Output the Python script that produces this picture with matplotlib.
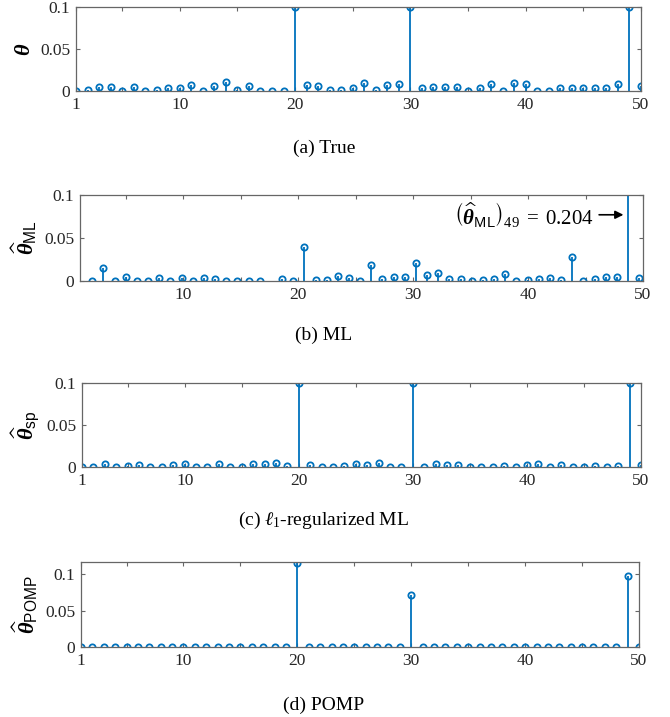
import numpy as np
import matplotlib
matplotlib.use('Agg')
import matplotlib.pyplot as plt

plt.rcParams['font.family'] = ['Liberation Serif', 'DejaVu Serif']
plt.rcParams['mathtext.fontset'] = 'custom'
plt.rcParams['mathtext.rm'] = 'Liberation Serif'
plt.rcParams['mathtext.it'] = 'Liberation Serif:italic'
plt.rcParams['mathtext.bf'] = 'Liberation Serif:bold'
plt.rcParams['mathtext.bfit'] = 'Liberation Serif:italic:bold'
plt.rcParams['mathtext.sf'] = 'Liberation Sans'
plt.rcParams['mathtext.fallback'] = 'stix'

# values
idx = np.arange(1, 51)
theta_true = [0, 0.001, 0.005, 0.005, 0, 0.005, 0, 0.0015, 0.003, 0.003,
              0.0075, 0, 0.0065, 0.011, 0.0015, 0.0055, 0, 0.0005, 0.0005, 0.1,
              0.0075, 0.006, 0.001, 0.0015, 0.004, 0.0095, 0.0015, 0.0075, 0.008, 0.1,
              0.003, 0.005, 0.005, 0.005, 0, 0.003, 0.0085, 0, 0.0095, 0.0085,
              0.0005, 0.0005, 0.003, 0.003, 0.003, 0.003, 0.003, 0.008, 0.1, 0.006]
theta_ml = [0, 0.0147, 0, 0.0044, 0, 0, 0.003, 0, 0.003, 0,
            0.003, 0.0024, 0, 0, 0, 0, np.nan, 0.002, 0, 0.0397,
            0.001, 0.001, 0.006, 0.003, 0, 0.0187, 0.002, 0.005, 0.005, 0.0206,
            0.007, 0.009, 0.002, 0.002, 0, 0.001, 0.002, 0.008, 0, 0.001,
            0.002, 0.004, 0.001, 0.0274, 0, 0.002, 0.005, 0.0044, 0.204, 0.004]
theta_sp = [0, 0, 0.0036, 0, 0.0012, 0.0024, 0, 0, 0.002, 0.004,
            0, 0, 0.003, 0, 0, 0.003, 0.003, 0.0044, 0.0016, 0.1,
            0.002, 0, 0, 0.0016, 0.0036, 0.0028, 0.0048, 0, 0, 0.1,
            0, 0.003, 0.0028, 0.0028, 0, 0, 0, 0.0008, 0, 0.002,
            0.004, 0, 0.0028, 0, 0, 0.0008, 0, 0.0008, 0.1, 0.002]
theta_pomp = [0] * 19 + [0.115] + [0] * 9 + [0.0715] + [0] * 18 + [0.098, 0]

# the ML stems sit on a slightly compressed grid in the original
x_ml = 2.07 + (idx - 1) * 0.9714

blue = '#0072BD'
grey = '#666666'
txt = '#262626'

fig = plt.figure(figsize=(6.7, 7.17), dpi=100)
W, H = 670, 717


def add_axes(left, right, top, bottom):
    return fig.add_axes([left / W, 1 - bottom / H, (right - left) / W, (bottom - top) / H])


panels = [
    dict(box=(76, 641, 7, 91), x=idx, y=theta_true, ylim=0.1,
         ylabel=r'$\boldsymbol{\theta}$', xt=[1, 10, 20, 30, 40, 50],
         cap='(a) True', cap_y=148),
    dict(box=(80, 643, 195, 281), x=x_ml, y=theta_ml, ylim=0.1,
         ylabel=r'$\widehat{\boldsymbol{\theta}}_{\mathsf{ML}}$', xt=[10, 20, 30, 40, 50],
         cap='(b) ML', cap_y=335),
    dict(box=(82, 641, 383, 467), x=idx, y=theta_sp, ylim=0.1,
         ylabel=r'$\widehat{\boldsymbol{\theta}}_{\mathsf{sp}}$', xt=[1, 10, 20, 30, 40, 50],
         cap=r'(c) $\ell_1$-regularized ML', cap_y=520),
    dict(box=(81, 639, 562, 647), x=idx, y=theta_pomp, ylim=0.117,
         ylabel=r'$\widehat{\boldsymbol{\theta}}_{\mathsf{POMP}}$', xt=[1, 10, 20, 30, 40, 50],
         cap='(d) POMP', cap_y=705),
]

for p in panels:
    ax = add_axes(*p['box'])
    ml, sl, bl = ax.stem(p['x'], p['y'], basefmt=' ')
    plt.setp(sl, color=blue, linewidth=1.3)
    plt.setp(ml, color=blue, markerfacecolor='none', markersize=4.5, markeredgewidth=1.3)
    for s in ax.spines.values():
        s.set_color(grey)
        s.set_linewidth(0.9)
    ax.set_xlim(1, 50)
    ax.set_ylim(0, p['ylim'])
    ax.set_xticks(p['xt'])
    ax.set_xticks(np.arange(5, 50, 5), minor=True)
    ax.set_yticks([0, 0.05, 0.1])
    ax.set_yticklabels(['0', '0.05', '0.1'])
    ax.tick_params(which='both', direction='in', top=True, right=True,
                   length=3, width=0.8, color=grey, labelsize=12.5, labelcolor=txt, pad=4)
    ax.set_ylabel(p['ylabel'], fontsize=16, color='black', labelpad=4)
    fig.text(324 / W, 1 - p['cap_y'] / H, p['cap'], ha='center', va='center',
             fontsize=14, color='black')
    if p['cap'] == '(b) ML':
        ax.annotate(r'$\left(\widehat{\boldsymbol{\theta}}_{\mathsf{ML}}\right)_{49} \;=\; 0.204$',
                    xy=(x_ml[48] - 0.4, 0.077), xytext=(x_ml[48] - 3.0, 0.077),
                    ha='right', va='center', fontsize=15,
                    arrowprops=dict(arrowstyle='-|>', color='black', lw=1.2,
                                    mutation_scale=12, shrinkA=2, shrinkB=0))

fig.savefig('out.png', dpi=100)
